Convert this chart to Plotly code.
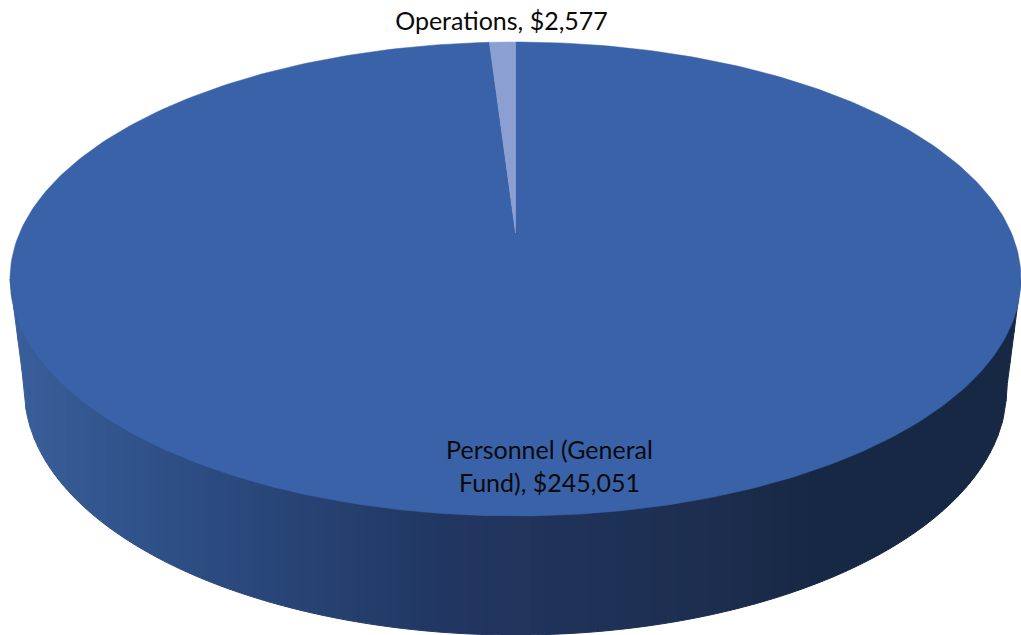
import numpy as np
import plotly.graph_objects as go

categories = ["Personnel (General<br>Fund)", "Operations"]
values = [245051, 2577]
slice_colors = ["#3A62A9", "#8C9FD3"]
label_x = [549.5, 501.5]
label_y = [469, 24]

W, H = 1021, 635
CX, CY, RX, RY = 515.5, 279.0, 505.5, 237.0      # top rim ellipse
APEX_Y = 233.0                                   # pie centre seen in perspective
BX, BY, BRX, BRY = 515.5, 390.0, 491.0, 245.0    # bottom rim ellipse
SIDE_STOPS = [0, 200, 450, 700, 820, 1021]
SIDE_RGB = [(58, 96, 156), (44, 76, 130), (33, 54, 97), (29, 46, 80), (23, 40, 68), (23, 40, 68)]


def warp(theta):
    # foreshortening of the far side of the disc
    return theta - 0.105 * np.sin(2 * theta)


def rim(a0, a1):
    t = warp(np.linspace(a0, a1, 400))
    return CX + RX * np.sin(t), CY - RY * np.cos(t)


def lower_edge(x):
    x = np.asarray(x, float)
    u = np.clip((x - BX) / BRX, -1, 1)
    y = BY + BRY * np.sqrt(1 - u ** 2)
    # straight sides joining the two rims
    yl = CY + (x - (CX - RX)) / (RX - BRX) * (BY - CY)
    yr = CY + ((CX + RX) - x) / (RX - BRX) * (BY - CY)
    y = np.where(np.abs(x - BX) > BRX, np.where(x < BX, yl, yr), y)
    return y


fig = go.Figure()

# side wall, drawn as narrow shaded strips
edges = np.arange(CX - RX, CX + RX + 4, 4.0)
for a, b in zip(edges[:-1], edges[1:]):
    b = min(b, CX + RX)
    xs = np.linspace(a, b, 4)
    lo = lower_edge(xs)
    mid = (a + b) / 2
    rgb = [int(round(np.interp(mid, SIDE_STOPS, [c[i] for c in SIDE_RGB]))) for i in range(3)]
    col = f"rgb({rgb[0]},{rgb[1]},{rgb[2]})"
    fig.add_trace(go.Scatter(
        x=np.r_[xs, xs[::-1]], y=np.r_[np.full(4, CY), lo[::-1]],
        mode="lines", fill="toself", fillcolor=col,
        line=dict(color=col, width=1), hoverinfo="skip", showlegend=False))

# top face: one wedge per value
total = sum(values)
start = 0.0
for name, v, col in zip(categories, values, slice_colors):
    end = start + 2 * np.pi * v / total
    rx, ry = rim(start, end)
    fig.add_trace(go.Scatter(
        x=np.r_[CX, rx, CX], y=np.r_[APEX_Y, ry, APEX_Y],
        mode="lines", fill="toself", fillcolor=col,
        line=dict(color=col, width=0.5), name=name.replace("<br>", " "),
        hoverinfo="skip", showlegend=False))
    start = end

# data labels
labels = [f"{c}, ${v:,}" for c, v in zip(categories, values)]
fig.add_trace(go.Scatter(
    x=label_x, y=label_y, mode="text", text=labels, textposition="middle center",
    textfont=dict(family="Lato", size=25, color="#0a0a0a"),
    hoverinfo="skip", showlegend=False))

fig.update_layout(
    width=W, height=H, margin=dict(l=0, r=0, t=0, b=0),
    paper_bgcolor="white", plot_bgcolor="white", showlegend=False,
    xaxis=dict(range=[0, W], visible=False, fixedrange=True),
    yaxis=dict(range=[H, 0], visible=False, fixedrange=True),
)
fig.write_html(
    "out.html",
    config={"displayModeBar": False},
    post_script=(
        "document.body.style.margin='0';document.body.style.overflow='hidden';"
        "document.body.style.fontVariantLigatures='none';"
    ),
)
